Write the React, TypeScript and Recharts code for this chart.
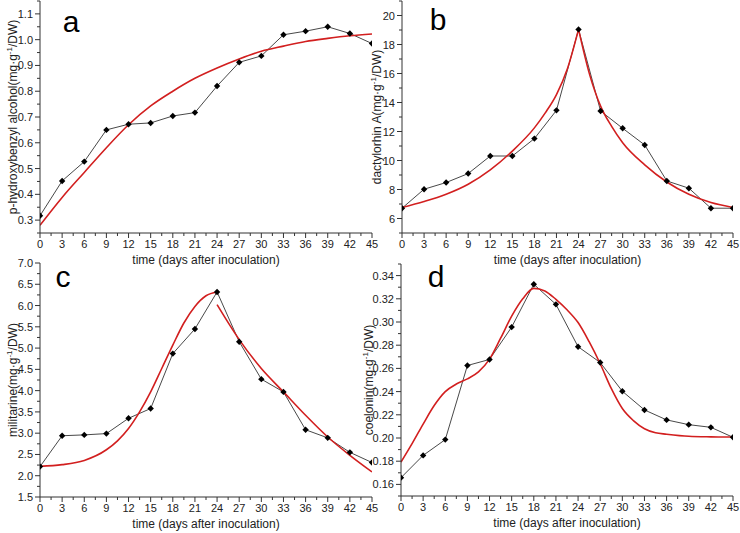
import React from 'react';
import { LineChart, Line, XAxis, YAxis } from 'recharts';

// sampling days of the culture
const days = [0, 3, 6, 9, 12, 15, 18, 21, 24, 27, 30, 33, 36, 39, 42, 45];

// measured contents (black diamonds)
const alcoholMeasured = [0.317, 0.452, 0.527, 0.65, 0.672, 0.677, 0.704, 0.717, 0.82, 0.912, 0.937, 1.019, 1.033, 1.05, 1.024, 0.985];
const dactylorhinMeasured = [6.71, 8.02, 8.48, 9.1, 10.31, 10.31, 11.51, 13.46, 19.04, 13.41, 12.22, 11.07, 8.59, 8.09, 6.71, 6.71];
const militarineMeasured = [2.215, 2.94, 2.96, 2.99, 3.35, 3.58, 4.87, 5.45, 6.32, 5.15, 4.27, 3.97, 3.08, 2.89, 2.55, 2.31];
const coeloninMeasured = [0.1658, 0.185, 0.1986, 0.2625, 0.2677, 0.2956, 0.3325, 0.3152, 0.2787, 0.2651, 0.2403, 0.2242, 0.2156, 0.2115, 0.2092, 0.2006];

// fitted curves (red)
const alcoholFit = [0.28, 0.388, 0.485, 0.581, 0.67, 0.743, 0.8, 0.85, 0.89, 0.925, 0.955, 0.975, 0.993, 1.005, 1.015, 1.022];

const dactylorhinRiseDays = [0, 3, 6, 9, 12, 15, 18, 19.5, 21, 22.5, 24];
const dactylorhinRiseFit = [6.76, 7.17, 7.67, 8.36, 9.35, 10.65, 12.25, 13.3, 14.55, 16.35, 19.04];
const dactylorhinFallDays = [24, 25.5, 27, 28.5, 30, 33, 36, 39, 42, 45];
const dactylorhinFallFit = [19.04, 15.94, 13.75, 12.35, 11.23, 9.7, 8.52, 7.67, 7.1, 6.76];

const militarineRiseDays = [0, 3, 6, 9, 10.5, 12, 13.5, 15, 16.5, 18, 19.5, 21, 22.5, 24];
const militarineRiseFit = [2.22, 2.26, 2.36, 2.61, 2.82, 3.11, 3.5, 3.97, 4.52, 5.07, 5.59, 5.98, 6.23, 6.32];
const militarineFallDays = [24, 27, 30, 33, 36, 39, 42, 45];
const militarineFallFit = [6.02, 5.2, 4.52, 3.97, 3.42, 2.91, 2.48, 2.09];

const coeloninFitDays = [0, 1.5, 3, 4.5, 6, 7.5, 9, 10.5, 12, 13.5, 15, 16.5, 18, 19.5, 21, 22.5, 24, 25.5, 27, 28.5, 30, 31.5, 33, 34.5, 36, 39, 42, 45];
const coeloninFit = [0.1792, 0.1951, 0.212, 0.228, 0.24, 0.2465, 0.251, 0.257, 0.268, 0.286, 0.305, 0.32, 0.329, 0.3268, 0.3195, 0.3105, 0.2995, 0.283, 0.264, 0.2427, 0.2254, 0.215, 0.208, 0.2045, 0.2033, 0.2015, 0.201, 0.2008];

// axis tick labels
const alcoholTicks = [0.3, 0.4, 0.5, 0.6, 0.7, 0.8, 0.9, 1.0, 1.1];
const dactylorhinTicks = [6, 8, 10, 12, 14, 16, 18, 20];
const militarineTicks = [1.5, 2.0, 2.5, 3.0, 3.5, 4.0, 4.5, 5.0, 5.5, 6.0, 6.5, 7.0];
const coeloninTicks = [0.16, 0.18, 0.2, 0.22, 0.24, 0.26, 0.28, 0.3, 0.32, 0.34];

const FONT = '"Liberation Sans", Arial, sans-serif';
const RED = '#d21f1f';
const AXIS = '#333';

const toPoints = (xs: number[], ys: number[]) => xs.map((day, i) => ({ day, value: ys[i] }));

// majors plus a minor tick halfway between, clipped to the domain
const withMinor = (major: number[], lo: number, hi: number) => {
  const step = major[1] - major[0];
  const out: number[] = [major[0] - step / 2];
  major.forEach((m) => out.push(m, m + step / 2));
  return out.map((v) => +v.toFixed(4)).filter((v) => v >= lo - 1e-6 && v <= hi + 1e-6);
};

const isMajor = (v: number, major: number[]) => major.some((m) => Math.abs(m - v) < 1e-6);

const makeXTick = (major: number[]) => (props: any) => {
  const { x, y, payload } = props;
  const big = isMajor(payload.value, major);
  return (
    <g>
      <line x1={x} x2={x} y1={y} y2={y + (big ? 5 : 3)} stroke={AXIS} />
      {big && (
        <text x={x} y={y + 15} textAnchor="middle" fontSize={11} fontFamily={FONT} fill="#222">
          {payload.value}
        </text>
      )}
    </g>
  );
};

const makeYTick = (major: number[], digits: number) => (props: any) => {
  const { x, y, payload } = props;
  const big = isMajor(payload.value, major);
  return (
    <g>
      <line x1={x} x2={x - (big ? 5 : 3)} y1={y} y2={y} stroke={AXIS} />
      {big && (
        <text x={x - 7} y={y + 4} textAnchor="end" fontSize={11} fontFamily={FONT} fill="#222">
          {payload.value.toFixed(digits)}
        </text>
      )}
    </g>
  );
};

const xTitle = (props: any) => {
  const { x, y, width } = props.viewBox;
  return (
    <text x={x + width / 2} y={y + 31} textAnchor="middle" fontSize={12} fontFamily={FONT} fill="#222">
      time (days after inoculation)
    </text>
  );
};

const yTitle = (name: string, dx: number) => (props: any) => {
  const { x, y, height } = props.viewBox;
  return (
    <text
      transform={`translate(${x + dx},${y + height / 2}) rotate(-90)`}
      textAnchor="middle"
      dominantBaseline="central"
      fontSize={12}
      fontFamily={FONT}
      fill="#222"
    >
      {name}(mg·g<tspan dy={-4} fontSize={8}>-1</tspan>
      <tspan dy={4}>/DW)</tspan>
    </text>
  );
};

const Diamond = (props: any) => {
  const { cx, cy } = props;
  if (cx == null || cy == null) return null;
  const r = 3.2;
  return <polygon points={`${cx},${cy - r} ${cx + r},${cy} ${cx},${cy + r} ${cx - r},${cy}`} fill="#000" />;
};

const dayTicks = withMinor(days, 0, 45);

interface PanelProps {
  left: number;
  top: number;
  width: number;
  height: number;
  margin: { top: number; right: number; bottom: number; left: number };
  xHeight: number;
  measured: number[];
  fits: { day: number; value: number }[][];
  domain: [number, number];
  yTicks: number[];
  digits: number;
  name: string;
  titleDx: number;
}

function Panel(p: PanelProps) {
  return (
    <div style={{ position: 'absolute', left: p.left, top: p.top }}>
      <LineChart width={p.width} height={p.height} margin={p.margin}>
        <XAxis
          dataKey="day"
          type="number"
          domain={[0, 45]}
          ticks={dayTicks}
          interval={0}
          tickSize={0}
          tickMargin={0}
          tickLine={false}
          tick={makeXTick(days)}
          height={p.xHeight}
          stroke={AXIS}
          allowDataOverflow
          label={xTitle}
        />
        <YAxis
          type="number"
          domain={p.domain}
          ticks={withMinor(p.yTicks, p.domain[0], p.domain[1])}
          interval={0}
          tickSize={0}
          tickMargin={0}
          tickLine={false}
          tick={makeYTick(p.yTicks, p.digits)}
          width={40}
          stroke={AXIS}
          allowDataOverflow
          label={yTitle(p.name, p.titleDx)}
        />
        <Line
          data={toPoints(days, p.measured)}
          dataKey="value"
          type="linear"
          stroke="#333"
          strokeWidth={0.9}
          dot={<Diamond />}
          activeDot={false}
          isAnimationActive={false}
        />
        {p.fits.map((f, i) => (
          <Line
            key={i}
            data={f}
            dataKey="value"
            type="monotone"
            stroke={RED}
            strokeWidth={1.6}
            dot={false}
            activeDot={false}
            isAnimationActive={false}
          />
        ))}
      </LineChart>
    </div>
  );
}

const letterStyle = { fontSize: 30, fontFamily: FONT, fill: '#000' };

export default function App() {
  return (
    <div style={{ position: 'absolute', left: 0, top: 0, width: 740, height: 533, background: '#fff', overflow: 'hidden' }}>
      <Panel
        left={0}
        top={0}
        width={380}
        height={275}
        margin={{ top: 1, right: 8, bottom: 10, left: 0 }}
        xHeight={32}
        measured={alcoholMeasured}
        fits={[toPoints(days, alcoholFit)]}
        domain={[0.25, 1.15]}
        yTicks={alcoholTicks}
        digits={1}
        name="p-hydroxybenzyl alcohol"
        titleDx={13}
      />
      <Panel
        left={362}
        top={0}
        width={378}
        height={275}
        margin={{ top: 1, right: 7, bottom: 10, left: 0 }}
        xHeight={32}
        measured={dactylorhinMeasured}
        fits={[toPoints(dactylorhinRiseDays, dactylorhinRiseFit), toPoints(dactylorhinFallDays, dactylorhinFallFit)]}
        domain={[5, 21]}
        yTicks={dactylorhinTicks}
        digits={0}
        name="dactylorhin A"
        titleDx={15}
      />
      <Panel
        left={0}
        top={250}
        width={380}
        height={283}
        margin={{ top: 13, right: 8, bottom: 0, left: 0 }}
        xHeight={36}
        measured={militarineMeasured}
        fits={[toPoints(militarineRiseDays, militarineRiseFit), toPoints(militarineFallDays, militarineFallFit)]}
        domain={[1.5, 7.0]}
        yTicks={militarineTicks}
        digits={1}
        name="militarine"
        titleDx={13}
      />
      <Panel
        left={361}
        top={250}
        width={379}
        height={283}
        margin={{ top: 14, right: 7, bottom: 0, left: 0 }}
        xHeight={37}
        measured={coeloninMeasured}
        fits={[toPoints(coeloninFitDays, coeloninFit)]}
        domain={[0.15, 0.35]}
        yTicks={coeloninTicks}
        digits={2}
        name="coelonin"
        titleDx={8}
      />
      <svg width={740} height={533} style={{ position: 'absolute', left: 0, top: 0, pointerEvents: 'none' }}>
        <text x={71} y={32} textAnchor="middle" style={letterStyle}>a</text>
        <text x={438} y={30} textAnchor="middle" style={letterStyle}>b</text>
        <text x={63} y={287} textAnchor="middle" style={letterStyle}>c</text>
        <text x={436} y={287} textAnchor="middle" style={letterStyle}>d</text>
      </svg>
    </div>
  );
}
